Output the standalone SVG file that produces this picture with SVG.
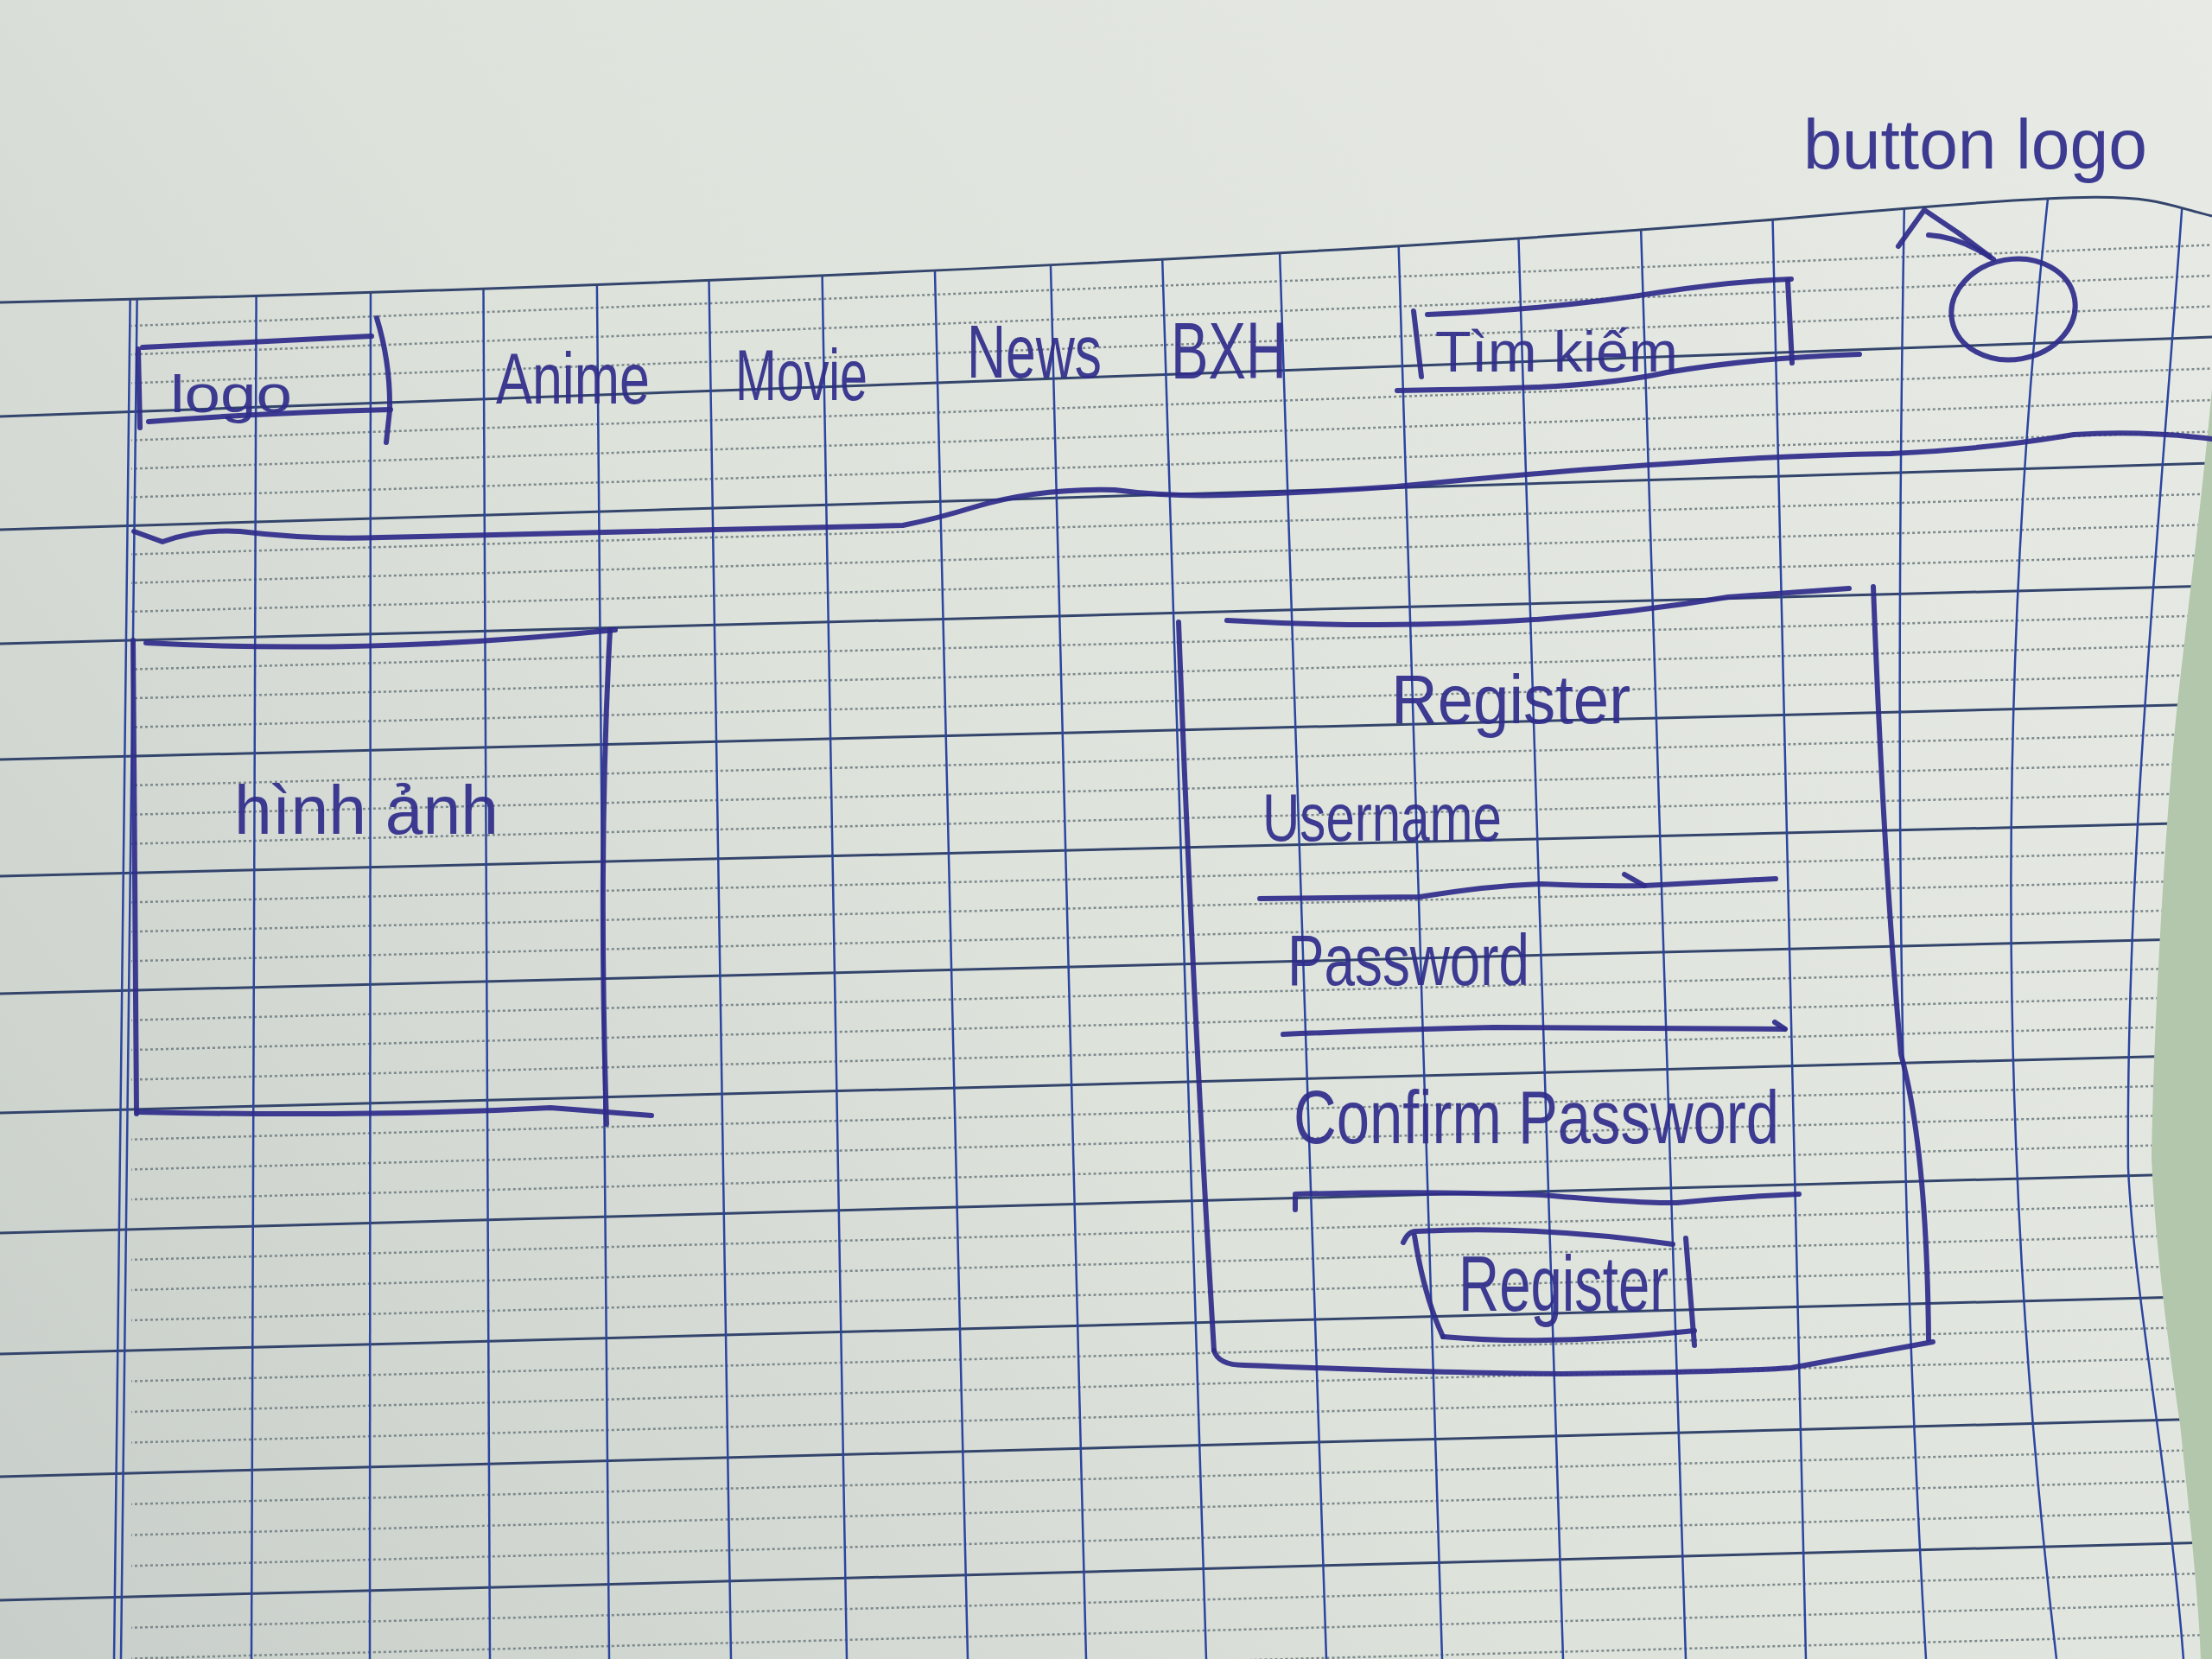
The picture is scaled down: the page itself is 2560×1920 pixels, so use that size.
<svg xmlns="http://www.w3.org/2000/svg" width="2560" height="1920" viewBox="0 0 2560 1920">
<defs>
<linearGradient id="paperShade" x1="0" y1="1920" x2="2560" y2="0" gradientUnits="userSpaceOnUse">
<stop offset="0" stop-color="#c8cec9"/>
<stop offset="0.45" stop-color="#dde2db"/>
<stop offset="1" stop-color="#e8ebe5"/>
</linearGradient>
<clipPath id="gridClip">
<path d="M0,350 C900,330 1700,285 2100,250 S2470,228 2560,250 L2560,450 C2550,560 2535,680 2520,814 C2505,960 2492,1200 2490,1341 C2495,1450 2510,1560 2523,1648 C2535,1760 2545,1860 2547,1920 L0,1920 Z"/>
</clipPath>
<clipPath id="minorClip">
<rect x="152" y="0" width="2408" height="1920"/>
</clipPath>
<style>
.major{stroke:#34456c;stroke-width:3;fill:none}
.minor{stroke:#7c888b;stroke-width:2.5;stroke-dasharray:3 3;fill:none}
.vert{stroke:#2b45a0;stroke-width:2.5;fill:none}
.ink{stroke:#2f2b8a;stroke-width:6;fill:none;stroke-linecap:round;stroke-linejoin:round;stroke-opacity:0.92}
.txt{font-family:"Liberation Sans","DejaVu Sans",sans-serif;fill:#2f2b8a;fill-opacity:0.92}
</style>
</defs>

<rect x="0" y="0" width="2560" height="1920" fill="#b2c7ac"/>
<path id="paper" d="M0,0 L2560,0 L2560,450 C2550,560 2535,680 2520,814 C2505,960 2492,1200 2490,1341 C2495,1450 2510,1560 2523,1648 C2535,1760 2545,1860 2547,1920 L0,1920 Z" fill="url(#paperShade)"/>

<g id="grid" clip-path="url(#gridClip)">
<g clip-path="url(#minorClip)">
<line class="minor" x1="0" y1="383" x2="2560" y2="283.5"/>
<line class="minor" x1="0" y1="416" x2="2560" y2="319"/>
<line class="minor" x1="0" y1="449" x2="2560" y2="354.5"/>
<line class="minor" x1="0" y1="514.75" x2="2560" y2="426.5"/>
<line class="minor" x1="0" y1="547.5" x2="2560" y2="463"/>
<line class="minor" x1="0" y1="580.25" x2="2560" y2="499.5"/>
<line class="minor" x1="0" y1="646" x2="2560" y2="571.5"/>
<line class="minor" x1="0" y1="679" x2="2560" y2="607"/>
<line class="minor" x1="0" y1="712" x2="2560" y2="642.5"/>
<line class="minor" x1="0" y1="778.5" x2="2560" y2="712.25"/>
<line class="minor" x1="0" y1="812" x2="2560" y2="746.5"/>
<line class="minor" x1="0" y1="845.5" x2="2560" y2="780.75"/>
<line class="minor" x1="0" y1="912.75" x2="2560" y2="849.25"/>
<line class="minor" x1="0" y1="946.5" x2="2560" y2="883.5"/>
<line class="minor" x1="0" y1="980.25" x2="2560" y2="917.75"/>
<line class="minor" x1="0" y1="1048" x2="2560" y2="985.5"/>
<line class="minor" x1="0" y1="1082" x2="2560" y2="1019"/>
<line class="minor" x1="0" y1="1116" x2="2560" y2="1052.5"/>
<line class="minor" x1="0" y1="1184.5" x2="2560" y2="1119.75"/>
<line class="minor" x1="0" y1="1219" x2="2560" y2="1153.5"/>
<line class="minor" x1="0" y1="1253.5" x2="2560" y2="1187.25"/>
<line class="minor" x1="0" y1="1322.75" x2="2560" y2="1255.25"/>
<line class="minor" x1="0" y1="1357.5" x2="2560" y2="1289.5"/>
<line class="minor" x1="0" y1="1392.25" x2="2560" y2="1323.75"/>
<line class="minor" x1="0" y1="1462" x2="2560" y2="1393.5"/>
<line class="minor" x1="0" y1="1497" x2="2560" y2="1429"/>
<line class="minor" x1="0" y1="1532" x2="2560" y2="1464.5"/>
<line class="minor" x1="0" y1="1602.5" x2="2560" y2="1535.5"/>
<line class="minor" x1="0" y1="1638" x2="2560" y2="1571"/>
<line class="minor" x1="0" y1="1673.5" x2="2560" y2="1606.5"/>
<line class="minor" x1="0" y1="1744.75" x2="2560" y2="1677.75"/>
<line class="minor" x1="0" y1="1780.5" x2="2560" y2="1713.5"/>
<line class="minor" x1="0" y1="1816.25" x2="2560" y2="1749.25"/>
<line class="minor" x1="0" y1="1887.75" x2="2560" y2="1820.75"/>
<line class="minor" x1="0" y1="1923.5" x2="2560" y2="1856.5"/>
<line class="minor" x1="0" y1="1959" x2="2560" y2="1892"/>
</g>
<line class="major" x1="0" y1="482" x2="2560" y2="390"/>
<line class="major" x1="0" y1="613" x2="2560" y2="536"/>
<line class="major" x1="0" y1="745" x2="2560" y2="678"/>
<line class="major" x1="0" y1="879" x2="2560" y2="815"/>
<line class="major" x1="0" y1="1014" x2="2560" y2="952"/>
<line class="major" x1="0" y1="1150" x2="2560" y2="1086"/>
<line class="major" x1="0" y1="1288" x2="2560" y2="1221"/>
<line class="major" x1="0" y1="1427" x2="2560" y2="1358"/>
<line class="major" x1="0" y1="1567" x2="2560" y2="1500"/>
<line class="major" x1="0" y1="1709" x2="2560" y2="1642"/>
<line class="major" x1="0" y1="1852" x2="2560" y2="1785"/>
<path class="vert" d="M152,230 L132,1920"/>
<path class="vert" d="M160,230 L140,1920"/>
<path class="vert" d="M297,230 L291,1920"/>
<path class="vert" d="M429,230 L428,1920"/>
<path class="vert" d="M559,230 L567,1920"/>
<path class="vert" d="M690,230 L705,1920"/>
<path class="vert" d="M819,230 L846,1920"/>
<path class="vert" d="M950,230 L980,1920"/>
<path class="vert" d="M1080,230 L1120,1920"/>
<path class="vert" d="M1214,230 L1257,1920"/>
<path class="vert" d="M1343,230 L1396,1920"/>
<path class="vert" d="M1479,230 L1535,1920"/>
<path class="vert" d="M1617,230 L1669,1920"/>
<path class="vert" d="M1756,230 L1809,1920"/>
<path class="vert" d="M1898,230 L1951,1920"/>
<path class="vert" d="M2051,230 L2090,1920"/>
<path class="vert" d="M2204,230 C2196,700 2192,1300 2229,1920"/>
<path class="vert" d="M2370,230 Q2280,1075 2380,1920"/>
<path class="vert" d="M2526,230 C2500,600 2460,1000 2463,1352 C2470,1500 2510,1700 2527,1920"/>
</g>
<path class="major" d="M0,350 C900,330 1700,285 2100,250 S2470,228 2560,250"/>

<g id="logo">
<path class="ink" d="M165,402 L430,389"/>
<path class="ink" d="M160,404 L162,495"/>
<path class="ink" d="M436,368 Q452,420 451,475 L447,512"/>
<path class="ink" d="M172,488 Q300,478 452,474"/>
<text class="txt" x="197" y="477" font-size="62" textLength="141" lengthAdjust="spacingAndGlyphs">logo</text>
</g>

<g id="nav-anime"><text class="txt" x="574" y="467" font-size="84" textLength="178" lengthAdjust="spacingAndGlyphs">Anime</text></g>
<g id="nav-movie"><text class="txt" x="851" y="463" font-size="84" textLength="153" lengthAdjust="spacingAndGlyphs">Movie</text></g>
<g id="nav-news"><text class="txt" x="1119" y="437" font-size="88" textLength="156" lengthAdjust="spacingAndGlyphs">News</text></g>
<g id="nav-bxh"><text class="txt" x="1355" y="438" font-size="92" textLength="134" lengthAdjust="spacingAndGlyphs">BXH</text></g>

<g id="search">
<path class="ink" d="M1636,360 L1645,436"/>
<path class="ink" d="M1652,364 Q1800,358 1923,338 Q2000,326 2073,323"/>
<path class="ink" d="M2069,325 L2074,420"/>
<path class="ink" d="M1617,452 Q1750,450 1801,447 Q1880,442 1929,431 Q2030,414 2152,410"/>
<text class="txt" x="1661" y="430" font-size="66" textLength="281" lengthAdjust="spacingAndGlyphs">Tìm kiếm</text>
</g>

<g id="button-logo">
<ellipse class="ink" cx="2330" cy="358" rx="72" ry="58" transform="rotate(-10 2330 358)"/>
<text class="txt" x="2087" y="195" font-size="82" textLength="398" lengthAdjust="spacingAndGlyphs">button logo</text>
</g>

<g id="header-divider">
<path class="ink" d="M155,615 L188,627 Q230,612 278,615 Q360,625 441,622 L1045,608 Q1085,600 1127,587 Q1200,565 1290,567 Q1350,575 1420,573 Q1520,570 1616,563 Q1800,545 1927,537 Q2060,527 2188,525 Q2300,520 2400,503 Q2480,498 2560,508"/>
</g>

<g id="image-box">
<path class="ink" d="M169,744 Q430,758 712,729"/>
<path class="ink" d="M154,741 L158,1289"/>
<path class="ink" d="M706,729 Q692,990 702,1301"/>
<path class="ink" d="M159,1287 Q430,1293 637,1282 L754,1291"/>
<text class="txt" x="271" y="965" font-size="80" textLength="306" lengthAdjust="spacingAndGlyphs">hình ảnh</text>
</g>

<g id="register-panel">
<path class="ink" d="M1420,718 C1600,728 1800,725 2000,691 L2140,681"/>
<path class="ink" d="M1364,720 Q1380,1150 1405,1563"/>
<path class="ink" d="M2168,679 Q2180,1000 2200,1220 Q2230,1330 2232,1550"/>
<path class="ink" d="M1405,1563 Q1410,1580 1440,1580 Q1700,1590 1808,1590 Q2000,1588 2073,1583 Q2170,1565 2237,1553"/>
<text class="txt" x="1610" y="837" font-size="80" textLength="277" lengthAdjust="spacingAndGlyphs">Register</text>
<text class="txt" x="1461" y="973" font-size="78" textLength="277" lengthAdjust="spacingAndGlyphs">Username</text>
<path class="ink" d="M1458,1040 L1643,1038 Q1720,1025 1784,1023 Q1850,1026 1903,1025 L2055,1017"/>
<path class="ink" d="M1880,1012 L1903,1025"/>
<text class="txt" x="1490" y="1140" font-size="84" textLength="280" lengthAdjust="spacingAndGlyphs">Password</text>
<path class="ink" d="M1485,1197 Q1600,1192 1729,1189 Q1850,1190 2065,1191"/>
<path class="ink" d="M2054,1183 L2066,1191"/>
<text class="txt" x="1497" y="1323" font-size="88" textLength="562" lengthAdjust="spacingAndGlyphs">Confirm Password</text>
<path class="ink" d="M1499,1400 L1499,1382 Q1650,1378 1785,1383 Q1900,1393 1941,1392 Q2010,1385 2082,1382"/>
</g>

<g id="register-button">
<path class="ink" d="M1624,1438 Q1630,1424 1640,1425 Q1783,1418 1936,1440"/>
<path class="ink" d="M1637,1430 Q1648,1500 1670,1547"/>
<path class="ink" d="M1670,1547 Q1790,1558 1961,1540"/>
<path class="ink" d="M1951,1433 L1961,1557"/>
<text class="txt" x="1688" y="1517" font-size="90" textLength="243" lengthAdjust="spacingAndGlyphs">Register</text>
</g>

<g id="connectors">
<path class="ink" d="M2197,285 L2227,243 L2267,270 L2303,297"/>
<path class="ink" d="M2232,272 Q2268,274 2307,300"/>
</g>
</svg>
